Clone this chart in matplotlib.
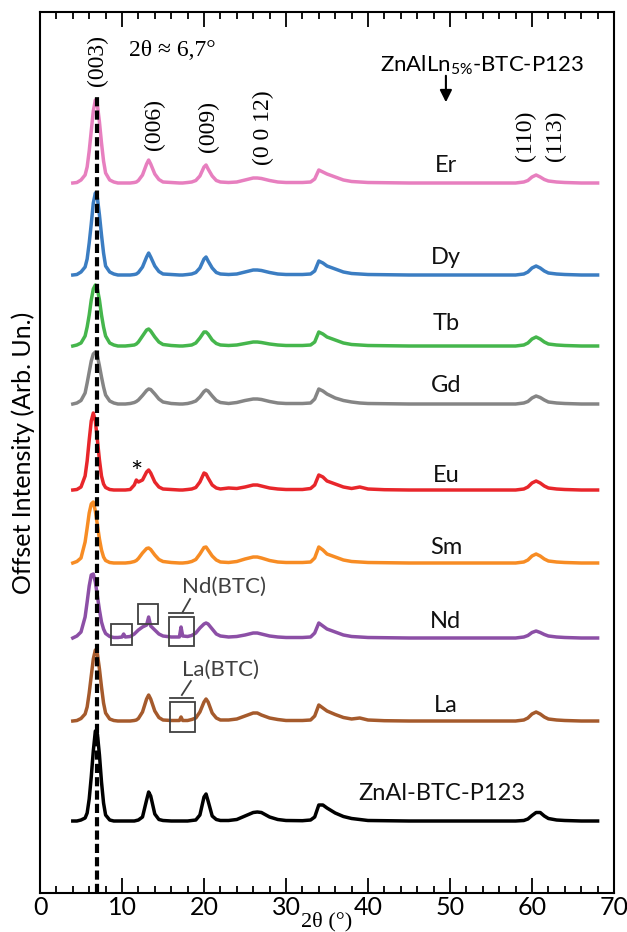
import matplotlib
matplotlib.use("Agg")
import matplotlib.pyplot as plt
from matplotlib.patches import Rectangle
from matplotlib.ticker import MultipleLocator

plt.rcParams["font.family"] = ["Lato", "DejaVu Sans"]
SERIF = ["Liberation Serif", "DejaVu Serif"]

# 2-theta grid (deg) shared by all patterns
two_theta = [
    4.0, 4.5, 5.0, 5.5, 5.75, 6.0, 6.25, 6.5, 6.75, 7.0, 7.25, 7.5, 7.75, 8.0, 8.5, 9.0,
    9.5, 10.0, 10.2, 10.4, 11.0, 11.5, 11.75, 12.0, 12.5, 13.0, 13.25, 13.5, 14.0, 14.5, 15.0,
    16.0, 17.0, 17.2, 17.4, 18.0, 18.5, 19.0, 19.5, 20.0, 20.25, 20.5, 21.0, 21.5, 22.0,
    23.0, 24.0, 25.0, 26.0, 26.5, 27.0, 28.0, 29.0, 30.0, 32.0, 33.0, 33.5, 34.0, 34.5, 35.0, 36.0, 37.0, 38.0, 39.0, 40.0,
    42.0, 45.0, 50.0, 55.0, 58.0, 59.0, 59.5, 60.0, 60.5, 61.0, 61.5, 62.0, 63.0, 64.0, 66.0, 68.0,
]

# intensities above each pattern's own baseline (arb. units)
er = [
    0, 0.5, 3, 8, 16, 32, 52, 72, 83, 78, 61, 40, 22, 10, 3, 1,
    0, 0, 0, 0, 0, 0.5, 1, 2.5, 8, 19, 23, 19, 9, 3.5, 1,
    0.5, 0, 0, 0, 0.5, 1, 2.5, 7, 16, 18, 14, 7, 2.5, 1,
    0.5, 1, 3, 5, 5, 4.5, 2.5, 1, 0.5, 0.5, 1, 4, 13, 11, 9, 6, 3, 1.5, 1, 0.5,
    0.3, 0, 0, 0, 0, 1, 2.5, 6, 8, 6, 3.5, 2, 1, 0.5, 0, 0,
]
dy = [
    0, 0.5, 3, 8, 16, 32, 51, 72, 82, 77, 60, 40, 22, 9, 3, 1,
    0, 0, 0, 0, 0, 0.5, 1, 2.5, 8, 18, 22, 18, 9, 3.5, 1,
    0.5, 0, 0, 0, 0.5, 1, 2.5, 7, 16, 18, 14, 7, 2.5, 1,
    0.5, 1, 3, 5, 5, 4.5, 2.5, 1, 0.5, 0.5, 1, 4, 14, 12, 9, 6, 3, 1.5, 1, 0.5,
    0.3, 0, 0, 0, 0, 1, 3, 7, 9, 7, 4, 2, 1, 0.5, 0, 0,
]
tb = [
    0, 1, 3, 10, 19, 31, 46, 57, 61, 57, 46, 31, 19, 10, 3, 1,
    0, 0, 0, 0, 0.5, 1, 2, 4, 10, 16, 17, 15, 9, 4, 1.5,
    0.5, 0, 0, 0, 0.5, 1, 3, 8, 14, 14, 12, 6, 2.5, 1,
    0.5, 1, 2.5, 4, 4, 3.5, 2, 1, 0.5, 0.5, 1, 4, 14, 12, 9, 6, 3, 1.5, 1, 0.5,
    0.3, 0, 0, 0, 0, 1, 3, 7, 9, 7, 4, 2, 1, 0.5, 0, 0,
]
gd = [
    0, 1, 3.5, 11, 21, 32, 43, 50, 52, 48, 38, 27, 17, 9, 3, 1,
    0, 0, 0, 0, 0.5, 1.5, 2.5, 4, 8.5, 13.5, 15, 14.5, 10, 5, 2,
    0.5, 0, 0, 0, 0.5, 1.5, 3, 7, 12.5, 14, 13, 8, 3.5, 1.5,
    0.5, 1.5, 3.5, 5, 5, 4.5, 2.5, 1, 0.5, 0.5, 1, 5, 15, 13, 10, 6, 3.5, 2, 1, 0.5,
    0.3, 0, 0, 0, 0, 1, 2.5, 6, 8, 6.5, 4, 2, 1, 0.5, 0, 0,
]
eu = [
    0, 0.5, 3, 14, 29, 50, 69, 77, 69, 50, 30, 14, 6, 2.5, 0.5, 0,
    0, 0, 0, 0, 0.5, 5, 10, 8, 10, 18, 20, 17, 8, 3, 1,
    0.5, 0, 0, 0, 0.5, 1, 2.5, 8, 17, 16, 12, 5, 2, 1,
    2, 1.5, 3, 5, 5, 4, 2, 1, 0.5, 0.5, 1.5, 5, 15, 13, 9, 6, 3, 1.5, 3, 1,
    0.3, 0, 0, 0, 0, 1, 3, 7, 9, 7, 4, 2, 1, 0.5, 0, 0,
]
sm = [
    0, 1.5, 5, 21, 35, 50, 59, 61, 52, 38, 24, 13, 6, 2.5, 0.5, 0,
    0, 0, 0, 0, 0.5, 1.5, 2.5, 4.5, 10, 14.5, 15, 13.5, 8, 3.5, 1.5,
    0.5, 0, 0, 0, 0.5, 1.5, 3.5, 9, 15.5, 16, 13, 7, 3, 1,
    0.5, 1.5, 4, 6, 6, 5, 2.5, 1, 0.5, 0.5, 1, 5, 16, 13, 9, 6, 3, 1.5, 1, 0.5,
    0.3, 0, 0, 0, 0, 1, 3, 7, 9, 7, 4, 2, 1, 0.5, 0, 0,
]
nd = [
    0, 2, 6, 21, 36, 52, 63, 64, 56, 42, 28, 16, 9, 4.5, 1.5, 0.5,
    0.5, 1, 4, 1, 1.5, 4, 6, 8, 11, 13, 21, 12, 8, 4, 2,
    1, 1, 11, 2, 1.5, 2.5, 5, 10, 14, 15, 14, 9, 4, 2,
    1, 1.5, 3, 5, 5, 4, 2, 1, 0.5, 0.5, 1, 5, 15, 12, 9, 6, 3, 1.5, 1, 0.5,
    0.3, 0, 0, 0, 0, 1, 2.5, 5.5, 7, 5.5, 3.5, 2, 1, 0.5, 0, 0,
]
la = [
    0, 0.5, 2.5, 7, 14, 28, 45, 62, 71, 67, 52, 34, 18, 8, 2, 0.5,
    0, 0, 0, 0, 0, 0.5, 1, 2.5, 9, 22, 26, 22, 10, 3.5, 1,
    0.5, 0.5, 4, 0.5, 0.5, 1.5, 3, 9, 19, 22, 19, 8, 3, 1,
    1, 2, 5, 8, 8, 6, 3, 1.5, 0.5, 0.5, 1, 5, 16, 13, 10, 6.5, 3.5, 2, 3, 1,
    0.3, 0, 0, 0, 0, 1, 3, 7, 9, 7, 4, 2, 1, 0.5, 0, 0,
]
znal = [
    0, 0, 1, 3, 8, 22, 44, 70, 90, 87, 66, 39, 18, 6, 1, 0,
    0, 0, 0, 0, 0, 0, 0.5, 1, 4, 21, 29, 25, 7, 1.5, 0.5,
    0, 0, 0, 0, 0, 0.5, 1, 6, 24, 27, 20, 5, 1.5, 0.5,
    0.5, 1.5, 5, 8.5, 9, 8.5, 4, 1.5, 0.5, 0.3, 1, 4, 16, 16, 13, 8, 4.5, 2.5, 1.5, 0.5,
    0.3, 0, 0, 0, 0, 0.5, 2, 5.5, 8.5, 8.5, 5, 2.5, 1, 0.5, 0, 0,
]

samples = ["Er", "Dy", "Tb", "Gd", "Eu", "Sm", "Nd", "La", "ZnAl-BTC-P123"]
patterns = [er, dy, tb, gd, eu, sm, nd, la, znal]
offsets = [710, 618, 547, 489, 403, 330, 255, 172, 72]
label_y = [728, 635, 570, 508, 418, 346, 271, 188, 100]
colors = ["#e77fbf", "#3b7dc2", "#45b64c", "#858585", "#e8262b",
          "#f78c24", "#8c4fa6", "#a55a2c", "#000000"]

hkl_labels = ["(003)", "(006)", "(009)", "(0 0 12)", "(110)", "(113)"]
hkl_x = [7.0, 13.9, 20.5, 27.3, 59.2, 62.8]
hkl_y = [833, 768, 767, 765, 757, 757]

for p in patterns:
    assert len(p) == len(two_theta)

fig = plt.figure(figsize=(6.27, 9.32), dpi=100)
ax = fig.add_axes([40 / 627, 39 / 932, 574 / 627, 881 / 932])

for name, y, off, ly, c in zip(samples, patterns, offsets, label_y, colors):
    ax.plot(two_theta, [v + off for v in y], color=c, lw=2.5, solid_joinstyle="round")
    lx = 49.0 if name.startswith("ZnAl") else 49.5
    ax.text(lx, ly, name, ha="center", va="center", fontsize=17, color="#111111")

# reference line at the (003) reflection
ax.plot([6.9, 6.9], [0, 796], color="k", lw=3, dashes=(2.2, 1.0), zorder=5)

for t, x, y in zip(hkl_labels, hkl_x, hkl_y):
    ax.text(x, y, t, rotation=90, ha="center", va="center", fontsize=17, family=SERIF)

ax.text(10.9, 843, "2θ ≈ 6,7°", ha="left", va="center", fontsize=17, family=SERIF)
ax.text(53.9, 828, r"ZnAlLn$_{\mathregular{5\%}}$-BTC-P123", ha="center", va="center", fontsize=16)
ax.annotate("", xy=(49.5, 788), xytext=(49.5, 820),
            arrowprops=dict(arrowstyle="-|>", color="k", lw=1.5, mutation_scale=18))
ax.text(11.7, 419, "*", ha="center", va="center", fontsize=21)

# BTC impurity boxes
grey = "#404040"
for x0, x1, y0, y1 in [(8.66, 11.2, 248, 269), (11.95, 14.4, 269, 289),
                       (15.7, 18.8, 247, 276), (15.8, 18.9, 161, 191)]:
    ax.add_patch(Rectangle((x0, y0), x1 - x0, y1 - y0, fill=False, ec=grey, lw=1.3, zorder=6))
ax.plot([15.7, 18.6], [280, 280], color=grey, lw=1.3)
ax.plot([17.4, 18.3], [281, 294], color=grey, lw=1.3)
ax.plot([15.8, 18.7], [195, 195], color=grey, lw=1.3)
ax.plot([17.3, 18.4], [198, 212], color=grey, lw=1.3)
ax.text(22.4, 306, "Nd(BTC)", ha="center", va="center", fontsize=16, color=grey)
ax.text(22.0, 223, "La(BTC)", ha="center", va="center", fontsize=16, color=grey)

ax.set_xlim(0, 70)
ax.set_ylim(0, 881)
ax.set_yticks([])
ax.xaxis.set_major_locator(MultipleLocator(10))
ax.xaxis.set_minor_locator(MultipleLocator(2))
ax.tick_params(axis="x", which="both", direction="in", top=True, labelsize=18, pad=2, width=1.3)
ax.tick_params(axis="x", which="major", length=11)
ax.tick_params(axis="x", which="minor", length=5)
for s in ax.spines.values():
    s.set_linewidth(1.5)

ax.set_xlabel("2θ (°)", fontsize=16, family=SERIF)
ax.xaxis.set_label_coords(0.5, -0.0215)
ax.set_ylabel("Offset Intensity (Arb. Un.)", fontsize=18)
ax.yaxis.set_label_coords(-0.008, 0.5)

fig.savefig("out.png", dpi=100)
